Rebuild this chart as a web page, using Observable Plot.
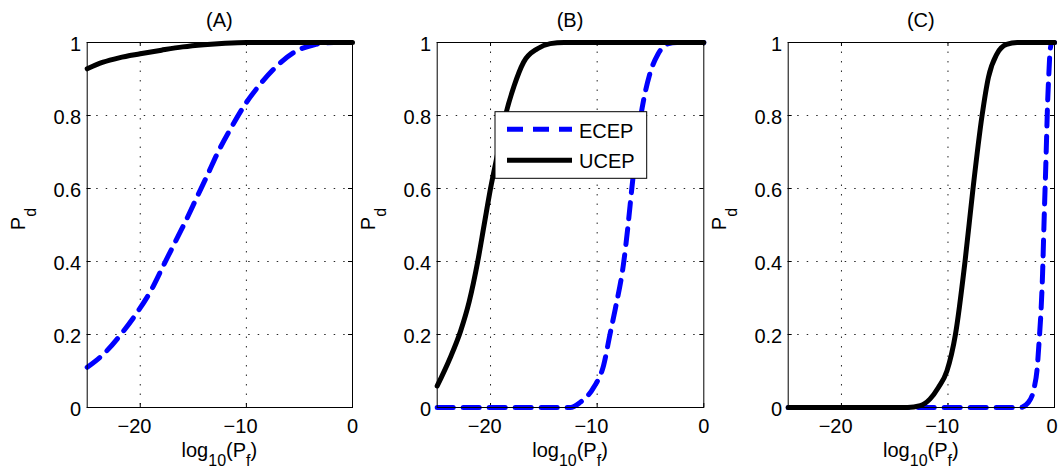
<!DOCTYPE html>
<html><head><meta charset="utf-8">
<script src="https://cdn.jsdelivr.net/npm/d3@7"></script>
<script src="https://cdn.jsdelivr.net/npm/@observablehq/plot@0.6"></script>
<style>
body{margin:0;background:#fff;}
#wrap{position:relative;width:1058px;height:471px;overflow:hidden;background:#fff;}
#wrap svg{position:absolute;top:0;}
</style></head><body><div id="wrap"></div>
<script>
const xTicks = [-20, -10, 0];
const yTicks = [0, 0.2, 0.4, 0.6, 0.8, 1];
const gridXVals = [-20, -10];
const gridYVals = [0.2, 0.4, 0.6, 0.8];
const panelTitles = ["(A)", "(B)", "(C)"];
const seriesNames = ["ECEP", "UCEP"];

const ecepA_x = [-25, -23.3, -21.7, -20.3, -19.0, -17.9, -16.8, -15.7, -14.6, -13.7, -12.6, -11.5, -10.2, -8.8, -7.25, -5.5, -3.6, -1.75, 0];
const ecepA_y = [0.11, 0.151, 0.205, 0.26, 0.32, 0.384, 0.448, 0.512, 0.58, 0.635, 0.704, 0.763, 0.827, 0.882, 0.932, 0.973, 0.994, 1, 1];
const ucepA_x = [-25, -23.5, -22, -20, -18, -16, -14, -12, -10, 0];
const ucepA_y = [0.928, 0.946, 0.958, 0.969, 0.979, 0.988, 0.994, 0.998, 1, 1];

const ecepB_x = [-25, -12.5, -11.6, -10.3, -9.4, -8.8, -8.3, -7.5, -7.1, -6.75, -5.9, -5.1, -4.3, -3.4, -2.5, 0];
const ecepB_y = [0, 0, 0.014, 0.056, 0.115, 0.2, 0.27, 0.4, 0.5, 0.6, 0.8, 0.91, 0.968, 0.996, 1, 1];
const ucepB_x = [-25, -23.8, -22.8, -22, -21.2, -20.6, -20, -19.3, -18.6, -17.8, -16.9, -15.6, -14.4, -13.1, 0];
const ucepB_y = [0.059, 0.135, 0.21, 0.29, 0.4, 0.5, 0.6, 0.7, 0.8, 0.88, 0.946, 0.983, 0.997, 1, 1];

const ecepC_x = [-25, -3.2, -2.45, -1.9, -1.65, -1.44, -1.25, -1.12, -1.03, -0.94, -0.84, -0.75, -0.66, -0.53, -0.41, -0.25, 0];
const ecepC_y = [0, 0, 0.014, 0.055, 0.1, 0.183, 0.274, 0.366, 0.457, 0.548, 0.64, 0.731, 0.823, 0.914, 0.978, 1, 1];
const ucepC_x = [-25, -13.8, -12.6, -11.7, -10.9, -10.1, -9.3, -8.4, -7.65, -6.8, -6.2, -5.4, -4.5, -3.5, 0];
const ucepC_y = [0, 0, 0.005, 0.023, 0.055, 0.1, 0.2, 0.4, 0.6, 0.8, 0.905, 0.969, 0.995, 1, 1];

const FONT = '"Liberation Sans", Arial, Helvetica, sans-serif';
const zip = (xs, ys) => xs.map((x, i) => ({x, y: ys[i]}));
const fmtX = d => d < 0 ? "\u2212" + Math.abs(d) : String(d);

function panel(cfg) {
  const H = 471, mT = 42, mB = 64;
  const {left, width, mL, mR, title, ecep, ucep, legend, zeroDx = 0} = cfg;
  const fw = width - mL - mR, fh = H - mT - mB;
  const dotted = {stroke: "#000", strokeOpacity: 0.85, strokeWidth: 1, strokeDasharray: "1.5,8"};
  const p = Plot.plot({
    width, height: H, marginTop: mT, marginBottom: mB, marginLeft: mL, marginRight: mR,
    style: {background: "transparent", fontFamily: FONT, overflow: "visible", color: "#000"},
    x: {domain: [-25, 0], axis: null},
    y: {domain: [0, 1], axis: null},
    marks: [
      Plot.gridX(gridXVals, dotted),
      Plot.gridY(gridYVals, dotted),
      Plot.tickX(xTicks, {x: d => d, insetTop: fh - 4, stroke: "#000"}),
      Plot.tickX(xTicks, {x: d => d, insetBottom: fh - 4, stroke: "#000"}),
      Plot.tickY(yTicks, {y: d => d, insetRight: fw - 4, stroke: "#000"}),
      Plot.tickY(yTicks, {y: d => d, insetLeft: fw - 4, stroke: "#000"}),
      Plot.line(ecep, {x: "x", y: "y", stroke: "#0000ff", strokeWidth: 5, strokeDasharray: "16,10", curve: "monotone-x"}),
      Plot.line(ucep, {x: "x", y: "y", stroke: "#000", strokeWidth: 5, curve: "monotone-x"}),
      Plot.frame({stroke: "#000", strokeWidth: 1}),
      Plot.text(xTicks.filter(d => d < 0), {x: d => d, text: fmtX, frameAnchor: "bottom", lineAnchor: "bottom", dy: 25, dx: -5.8, fontSize: 20, fill: "#000"}),
      Plot.text(xTicks.filter(d => d >= 0), {x: d => d, text: fmtX, frameAnchor: "bottom", lineAnchor: "bottom", dy: 25, dx: zeroDx, fontSize: 20, fill: "#000"}),
      Plot.text(yTicks, {y: d => d, text: d => String(d), frameAnchor: "left", textAnchor: "end", lineAnchor: "bottom", dx: -6, dy: 8, fontSize: 20, fill: "#000"})
    ]
  });
  p.style.left = left + "px";
  const svg = d3.select(p);
  const cx = mL + fw / 2;
  svg.append("text").attr("x", cx).attr("y", 26.5).attr("text-anchor", "middle")
    .attr("font-size", 20).attr("font-family", FONT).attr("fill", "#000").text(title);
  const xl = svg.append("text").attr("x", cx).attr("y", 457).attr("text-anchor", "middle")
    .attr("font-size", 20).attr("font-family", FONT).attr("fill", "#000");
  xl.append("tspan").text("log");
  xl.append("tspan").attr("dy", 9).attr("font-size", 16).text("10");
  xl.append("tspan").attr("dy", -9).text("(P");
  xl.append("tspan").attr("dy", 9).attr("font-size", 16).text("f");
  xl.append("tspan").attr("dy", -9).text(")");
  const yl = svg.append("text").attr("transform", `translate(${mL - 61.7},${219}) rotate(-90)`)
    .attr("text-anchor", "middle").attr("font-size", 20).attr("font-family", FONT).attr("fill", "#000");
  yl.append("tspan").text("P");
  yl.append("tspan").attr("dy", 11).attr("font-size", 16).text("d");
  if (legend) {
    const g = svg.append("g").attr("transform", `translate(${495 - left},${111.7})`).attr("text-anchor", "start");
    g.append("rect").attr("x", 0).attr("y", 0).attr("width", 151.7).attr("height", 66.6)
      .attr("fill", "#fff").attr("stroke", "#000").attr("stroke-width", 1);
    g.append("line").attr("x1", 12).attr("x2", 77).attr("y1", 17.5).attr("y2", 17.5)
      .attr("stroke", "#0000ff").attr("stroke-width", 5).attr("stroke-dasharray", "16,10");
    g.append("line").attr("x1", 12).attr("x2", 77).attr("y1", 48.5).attr("y2", 48.5)
      .attr("stroke", "#000").attr("stroke-width", 5);
    g.append("text").attr("x", 84).attr("y", 26.3).attr("text-anchor", "start").attr("font-size", 20).attr("font-family", FONT).attr("fill", "#000").text(seriesNames[0]);
    g.append("text").attr("x", 84).attr("y", 56.3).attr("text-anchor", "start").attr("font-size", 20).attr("font-family", FONT).attr("fill", "#000").text(seriesNames[1]);
  }
  return p;
}

const wrap = document.getElementById("wrap");
wrap.append(panel({left: 0, width: 360, mL: 86.7, mR: 8, title: panelTitles[0], ecep: zip(ecepA_x, ecepA_y), ucep: zip(ucepA_x, ucepA_y)}));
wrap.append(panel({left: 360, width: 352, mL: 76.7, mR: 8.7, title: panelTitles[1], ecep: zip(ecepB_x, ecepB_y), ucep: zip(ucepB_x, ucepB_y), legend: true}));
wrap.append(panel({left: 712, width: 346, mL: 75.7, mR: 4, title: panelTitles[2], ecep: zip(ecepC_x, ecepC_y), ucep: zip(ucepC_x, ucepC_y), zeroDx: -2.5}));
</script></body></html>
